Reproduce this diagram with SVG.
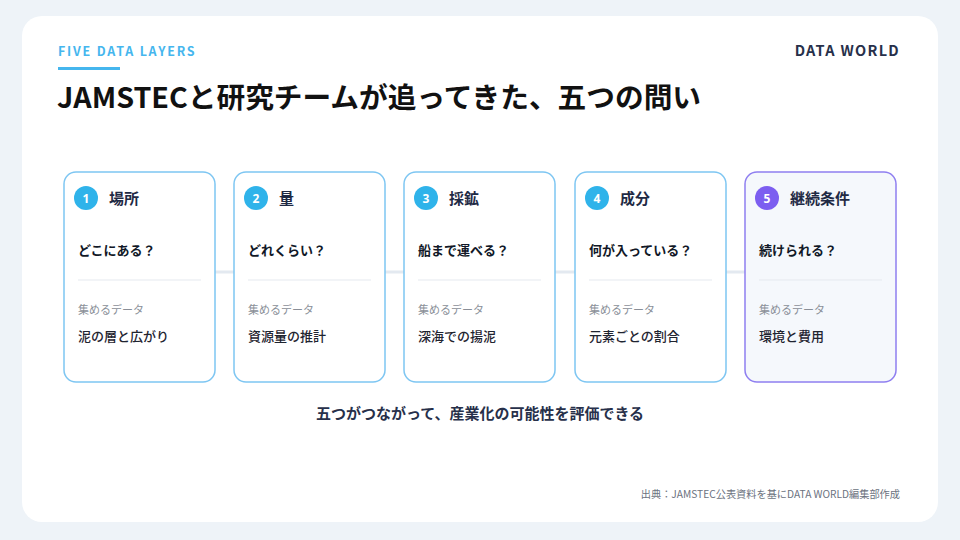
<svg xmlns="http://www.w3.org/2000/svg" width="960" height="540" viewBox="0 0 960 540">
<style>
text{font-family:"Noto Sans CJK JP","Noto Sans",sans-serif}
.card{fill:#ffffff;stroke:#7ec6f2;stroke-width:1.5}
.card5{fill:#f5f8fc;stroke:#8f7ff0;stroke-width:1.5}
.num{fill:#2fb3ea}
.num5{fill:#7c5ef0}
.numt{font-family:"Noto Sans",sans-serif;font-size:12px;font-weight:700;fill:#ffffff;text-anchor:middle}
.title{font-size:15px;font-weight:700;fill:#1f2a44}
.q{font-size:13px;font-weight:700;fill:#111827}
.div{stroke:#e5e9ef;stroke-width:1}
.lab{font-size:11px;fill:#8a8f98}
.val{font-size:13px;font-weight:500;fill:#1f2430}
</style>
<rect x="0" y="0" width="960" height="540" fill="#eef3f8"/>
<rect x="22" y="16" width="916" height="506" rx="20" fill="#ffffff"/>
<text x="58" y="56" font-family="Noto Sans,sans-serif" font-size="12.5" font-weight="700" letter-spacing="1.8" fill="#45b6ee">FIVE DATA LAYERS</text>
<rect x="58" y="67" width="62" height="3" fill="#45b6ee"/>
<text x="900" y="56" font-family="Noto Sans,sans-serif" font-size="14.5" font-weight="700" letter-spacing="1.3" fill="#27304a" text-anchor="end">DATA WORLD</text>
<text x="57" y="108" font-size="28.7" font-weight="700" fill="#111111">JAMSTECと研究チームが追ってきた、五つの問い</text>
<g id="connectors">
<line x1="215" y1="272" x2="745" y2="272" stroke="#e3e9f0" stroke-width="3"/>
</g>
<g id="node1">
<rect class="card" x="64" y="172" width="151" height="210" rx="12"/>
<circle class="num" cx="86" cy="198" r="12"/>
<text class="numt" x="86" y="202.5">1</text>
<text class="title" x="109" y="204">場所</text>
<text class="q" x="78" y="255">どこにある？</text>
<line class="div" x1="78" y1="280" x2="201" y2="280"/>
<text class="lab" x="78" y="314">集めるデータ</text>
<text class="val" x="78" y="341">泥の層と広がり</text>
</g>
<g id="node2">
<rect class="card" x="234" y="172" width="151" height="210" rx="12"/>
<circle class="num" cx="256" cy="198" r="12"/>
<text class="numt" x="256" y="202.5">2</text>
<text class="title" x="279" y="204">量</text>
<text class="q" x="248" y="255">どれくらい？</text>
<line class="div" x1="248" y1="280" x2="371" y2="280"/>
<text class="lab" x="248" y="314">集めるデータ</text>
<text class="val" x="248" y="341">資源量の推計</text>
</g>
<g id="node3">
<rect class="card" x="404" y="172" width="151" height="210" rx="12"/>
<circle class="num" cx="426" cy="198" r="12"/>
<text class="numt" x="426" y="202.5">3</text>
<text class="title" x="449" y="204">採鉱</text>
<text class="q" x="418" y="255">船まで運べる？</text>
<line class="div" x1="418" y1="280" x2="541" y2="280"/>
<text class="lab" x="418" y="314">集めるデータ</text>
<text class="val" x="418" y="341">深海での揚泥</text>
</g>
<g id="node4">
<rect class="card" x="575" y="172" width="151" height="210" rx="12"/>
<circle class="num" cx="597" cy="198" r="12"/>
<text class="numt" x="597" y="202.5">4</text>
<text class="title" x="620" y="204">成分</text>
<text class="q" x="589" y="255">何が入っている？</text>
<line class="div" x1="589" y1="280" x2="712" y2="280"/>
<text class="lab" x="589" y="314">集めるデータ</text>
<text class="val" x="589" y="341">元素ごとの割合</text>
</g>
<g id="node5">
<rect class="card5" x="745" y="172" width="151" height="210" rx="12"/>
<circle class="num5" cx="767" cy="198" r="12"/>
<text class="numt" x="767" y="202.5">5</text>
<text class="title" x="790" y="204">継続条件</text>
<text class="q" x="759" y="255">続けられる？</text>
<line class="div" x1="759" y1="280" x2="882" y2="280"/>
<text class="lab" x="759" y="314">集めるデータ</text>
<text class="val" x="759" y="341">環境と費用</text>
</g>
<text x="480" y="419" font-size="15" font-weight="700" fill="#27304a" text-anchor="middle">五つがつながって、産業化の可能性を評価できる</text>
<text x="900" y="498" font-size="10.2" fill="#6b7280" text-anchor="end">出典：JAMSTEC公表資料を基にDATA WORLD編集部作成</text>
</svg>
